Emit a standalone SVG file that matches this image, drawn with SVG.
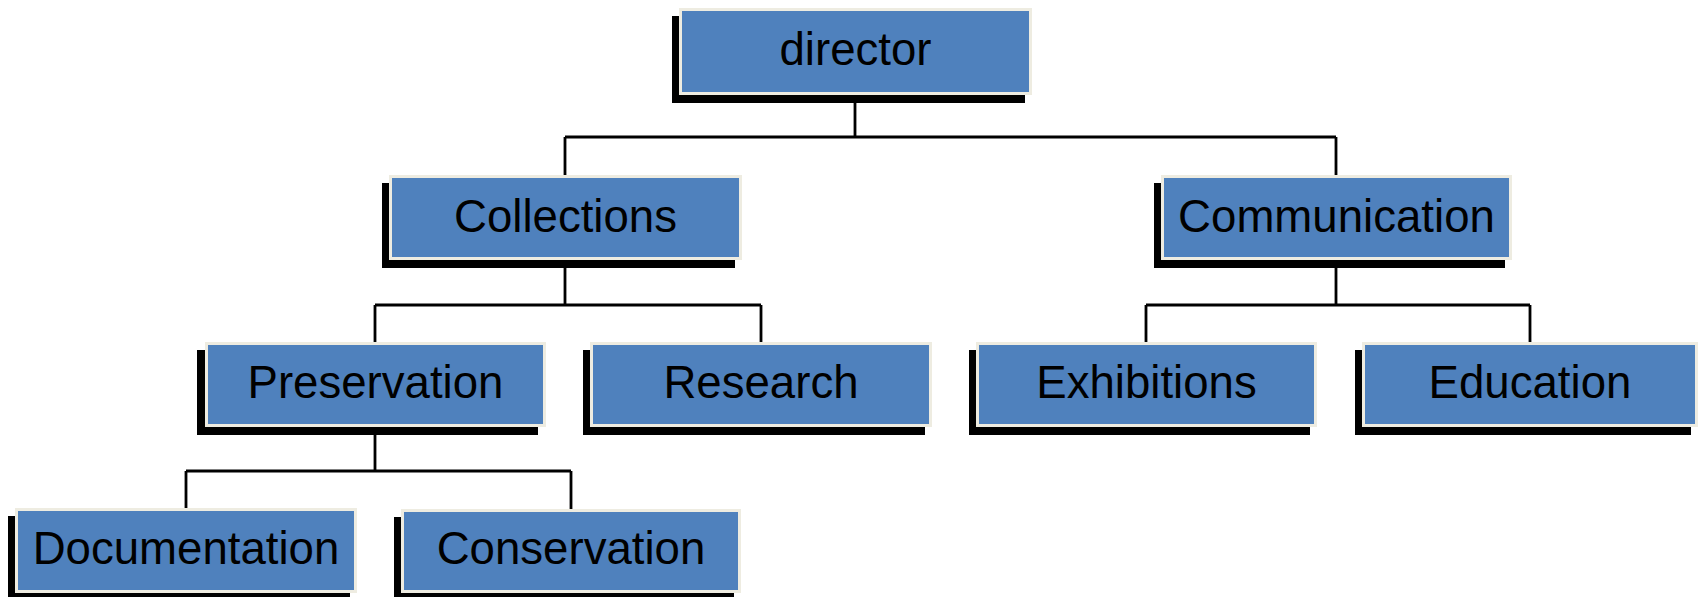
<svg xmlns="http://www.w3.org/2000/svg" width="1699" height="597" viewBox="0 0 1699 597">
<style>
.sh{fill:#000}
.bx{fill:#4F81BD;stroke:#EEECE1;stroke-width:3}
.tx{font-family:"Liberation Sans",Arial,sans-serif;font-size:45.6px;fill:#000;text-anchor:middle}
.cn{fill:none;stroke:#000;stroke-width:2.8}
</style>
<rect width="1699" height="597" fill="#fff"/>
<g id="connectors">
<path class="cn" d="M855,95V137M565,137H1336M565,137V175M1336,137V175"/>
<path class="cn" d="M565,260V305M375,305H761M375,305V342M761,305V342"/>
<path class="cn" d="M1336,260V305M1146,305H1530M1146,305V342M1530,305V342"/>
<path class="cn" d="M375,427V471M186,471H571M186,471V508M571,471V509"/>
</g>
<g id="director"><rect class="sh" x="672" y="16" width="353" height="87"/><rect class="bx" x="680.5" y="9.5" width="350" height="84"/><text class="tx" x="855.5" y="65">director</text></g>
<g id="collections"><rect class="sh" x="382" y="183" width="353" height="85"/><rect class="bx" x="390.5" y="176.5" width="350" height="82"/><text class="tx" x="565.5" y="232">Collections</text></g>
<g id="communication"><rect class="sh" x="1154" y="183" width="351" height="85"/><rect class="bx" x="1162.5" y="176.5" width="348" height="82"/><text class="tx" x="1336.5" y="232">Communication</text></g>
<g id="preservation"><rect class="sh" x="197" y="350" width="341" height="85"/><rect class="bx" x="206.5" y="343.5" width="338" height="82"/><text class="tx" x="375.5" y="398">Preservation</text></g>
<g id="research"><rect class="sh" x="583" y="350" width="342" height="85"/><rect class="bx" x="591.5" y="343.5" width="339" height="82"/><text class="tx" x="761" y="398">Research</text></g>
<g id="exhibitions"><rect class="sh" x="969" y="350" width="341" height="85"/><rect class="bx" x="977.5" y="343.5" width="338" height="82"/><text class="tx" x="1146.5" y="398">Exhibitions</text></g>
<g id="education"><rect class="sh" x="1355" y="350" width="336" height="85"/><rect class="bx" x="1363.5" y="343.5" width="333" height="82"/><text class="tx" x="1530" y="398">Education</text></g>
<g id="documentation"><rect class="sh" x="8" y="516" width="342" height="85"/><rect class="bx" x="16.5" y="509.5" width="339" height="82"/><text class="tx" x="186" y="564">Documentation</text></g>
<g id="conservation"><rect class="sh" x="394" y="517" width="340" height="84"/><rect class="bx" x="402.5" y="510.5" width="337" height="81"/><text class="tx" x="571" y="564">Conservation</text></g>
</svg>
